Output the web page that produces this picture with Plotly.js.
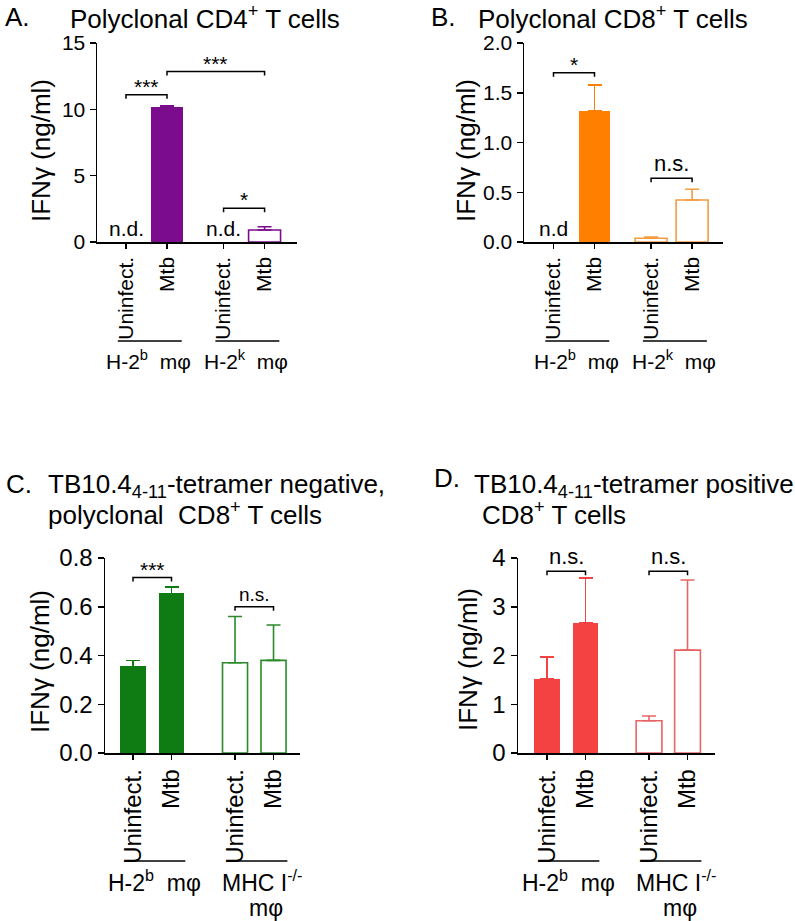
<!DOCTYPE html>
<html>
<head>
<meta charset="utf-8">
<script src="https://cdn.plot.ly/plotly-3.0.1.min.js"></script>
<style>html,body{margin:0;padding:0;background:#fff;}#chart{width:795px;height:921px;}</style>
</head>
<body>
<div id="chart"></div>
<script>
// ---------------- DATA ----------------
const categories = ['Uninfect.', 'Mtb', 'Uninfect.', 'Mtb'];

const groupsA = ['H-2<sup>b</sup>\u00a0\u00a0mφ', 'H-2<sup>k</sup>\u00a0\u00a0mφ'];
const groupsB = ['H-2<sup>b</sup>\u00a0\u00a0mφ', 'H-2<sup>k</sup>\u00a0\u00a0mφ'];
const groupsC = ['H-2<sup>b</sup>\u00a0\u00a0mφ', 'MHC I<sup>-/-</sup>'];
const groupsD = ['H-2<sup>b</sup>\u00a0\u00a0mφ', 'MHC I<sup>-/-</sup>'];

// IFN-gamma (ng/ml), mean and upper error (null = not detected)
const valuesA = [null, 10.15, null, 0.9];
const errorsA = [0, 0.12, 0, 0.25];
const valuesB = [null, 1.32, 0.037, 0.422];
const errorsB = [0, 0.26, 0.013, 0.108];
const valuesC = [0.355, 0.655, 0.37, 0.38];
const errorsC = [0.025, 0.027, 0.19, 0.145];
const valuesD = [1.52, 2.67, 0.66, 2.11];
const errorsD = [0.45, 0.92, 0.10, 1.44];

// significance brackets: [from index, to index, level, label]
const bracketsA = [[0, 1, 11.1, '***'], [1, 3, 12.85, '***'], [2, 3, 2.55, '*']];
const bracketsB = [[0, 1, 1.70, '*'], [2, 3, 0.64, 'n.s.']];
const bracketsC = [[0, 1, 0.72, '***'], [2, 3, 0.60, 'n.s.']];
const bracketsD = [[0, 1, 3.73, 'n.s.'], [2, 3, 3.73, 'n.s.']];

const notDetectedLabelA = 'n.d.';
const notDetectedLabelB = 'n.d';

const titleLettersText = ['A.', 'B.', 'C.', 'D.'];
const yTitle = 'IFNγ (ng/ml)';

// ---------------- LAYOUT / STYLE ----------------
const W = 795, H = 921;
const FONT = 'Liberation Sans, Arial, Helvetica, sans-serif';

const panels = [
  { xa: 'x', ya: 'y', values: valuesA, errors: errorsA, brackets: bracketsA, groups: groupsA,
    nd: notDetectedLabelA, fill: '#7B0C8E', edge: '#7B0C8E',
    left: 97, right: 297, top: 43, bottom: 242, tick0: 126, unit: 41, gap: 0.38, bw: 0.78,
    yMax: 15, dtick: 5, fmt: 'd', tickSize: 21, brkSize: 21, nsSize: 22,
    groupLineY: 341, groupLabelY: 360, groupSize: 21, yTitleX: 41, yTitleY: 151 },
  { xa: 'x2', ya: 'y2', values: valuesB, errors: errorsB, brackets: bracketsB, groups: groupsB,
    nd: notDetectedLabelB, fill: '#FF8000', edge: '#F39C40',
    left: 524, right: 723, top: 43, bottom: 242, tick0: 553.5, unit: 41, gap: 0.38, bw: 0.78,
    yMax: 2, dtick: 0.5, fmt: '.1f', tickSize: 21, brkSize: 21, nsSize: 22,
    groupLineY: 341, groupLabelY: 360, groupSize: 21, yTitleX: 466, yTitleY: 151 },
  { xa: 'x3', ya: 'y3', values: valuesC, errors: errorsC, brackets: bracketsC, groups: groupsC,
    nd: null, fill: '#0E7C12', edge: '#2A8A2A',
    left: 105, right: 300, top: 558, bottom: 753, tick0: 133, unit: 38.5, gap: 0.65, bw: 0.65,
    yMax: 0.8, dtick: 0.2, fmt: '.1f', tickSize: 24, brkSize: 21, nsSize: 19,
    groupLineY: 861, groupLabelY: 881, groupSize: 23, yTitleX: 40, yTitleY: 662 },
  { xa: 'x4', ya: 'y4', values: valuesD, errors: errorsD, brackets: bracketsD, groups: groupsD,
    nd: null, fill: '#F44242', edge: '#E86464',
    left: 518, right: 715, top: 558, bottom: 753, tick0: 547, unit: 38.5, gap: 0.65, bw: 0.67,
    yMax: 4, dtick: 1, fmt: 'd', tickSize: 24, brkSize: 21, nsSize: 22,
    groupLineY: 861, groupLabelY: 881, groupSize: 23, yTitleX: 468, yTitleY: 660 }
];

const py = v => 1 - v / H;
const px = v => v / W;

const traces = [];
const shapes = [];
const annotations = [];
const layout = {
  width: W, height: H,
  margin: { l: 0, r: 0, t: 0, b: 0 },
  paper_bgcolor: 'white', plot_bgcolor: 'white',
  showlegend: false,
  font: { family: FONT, color: 'black' },
  bargap: 0
};

panels.forEach((p, k) => {
  const pos = categories.map((c, i) => i + p.gap * Math.floor(i / 2));
  const xRange = [(p.left - p.tick0) / p.unit, (p.right - p.tick0) / p.unit];
  const axSuffix = k === 0 ? '' : String(k + 1);

  // bars: group 1 filled, group 2 outlined
  [0, 1].forEach(g => {
    const idx = [2 * g, 2 * g + 1];
    const filled = g === 0;
    traces.push({
      type: 'bar',
      xaxis: p.xa, yaxis: p.ya,
      x: idx.map(i => pos[i]),
      y: idx.map(i => p.values[i]),
      width: p.bw,
      marker: {
        color: filled ? p.fill : 'white',
        line: { color: filled ? p.fill : p.edge, width: filled ? 0 : 1.6 }
      },
      error_y: {
        type: 'data', symmetric: false,
        array: idx.map(i => p.errors[i]),
        arrayminus: idx.map(() => 0),
        color: filled ? p.fill : p.edge, thickness: 1.6, width: 7
      },
      hoverinfo: 'skip'
    });
  });

  layout['xaxis' + axSuffix] = {
    domain: [px(p.left), px(p.right)], range: xRange, anchor: p.ya,
    showline: true, linecolor: 'black', linewidth: 1.5,
    ticks: 'outside', ticklen: 5, tickwidth: 1.5, tickcolor: 'black',
    tickmode: 'array', tickvals: pos, ticktext: categories, tickangle: -90,
    tickfont: { family: FONT, size: p.tickSize, color: 'black' },
    showgrid: false, zeroline: false, fixedrange: true
  };
  layout['yaxis' + axSuffix] = {
    domain: [py(p.bottom), py(p.top)], range: [0, p.yMax], anchor: p.xa,
    showline: true, linecolor: 'black', linewidth: 1.5,
    ticks: 'outside', ticklen: 6, tickwidth: 1.5, tickcolor: 'black',
    dtick: p.dtick, tick0: 0, tickformat: p.fmt,
    tickfont: { family: FONT, size: p.tickSize, color: 'black' },
    showgrid: false, zeroline: false, fixedrange: true
  };

  // significance brackets
  const drop = 4 * p.yMax / (p.bottom - p.top);
  p.brackets.forEach(b => {
    const [i, j, lev, lab] = b;
    const x0 = pos[i], x1 = pos[j];
    shapes.push({
      type: 'path', xref: p.xa, yref: p.ya,
      path: `M${x0},${lev - drop} L${x0},${lev} L${x1},${lev} L${x1},${lev - drop}`,
      line: { color: 'black', width: 1.5 }
    });
    const isStar = lab.indexOf('*') >= 0;
    annotations.push({
      xref: p.xa, yref: p.ya, x: (x0 + x1) / 2, y: lev,
      text: lab, showarrow: false, xanchor: 'center', yanchor: 'bottom',
      yshift: isStar ? -5 : 0,
      font: { family: FONT, size: isStar ? p.brkSize : p.nsSize, color: 'black' }
    });
  });

  // not detected labels
  if (p.nd) {
    p.values.forEach((v, i) => {
      if (v === null) {
        annotations.push({
          xref: p.xa, yref: p.ya, x: pos[i], y: 0, text: p.nd, showarrow: false,
          xanchor: 'center', yanchor: 'bottom', yshift: 0,
          font: { family: FONT, size: 21, color: 'black' }
        });
      }
    });
  }

  // group lines + labels
  p.groups.forEach((gl, g) => {
    const a = pos[2 * g], b = pos[2 * g + 1];
    shapes.push({
      type: 'line', xref: p.xa, yref: 'paper',
      x0: a - 0.2, x1: b + 0.36, y0: py(p.groupLineY), y1: py(p.groupLineY),
      line: { color: 'black', width: 1.5 }
    });
    const twoLine = gl.indexOf('MHC') === 0;
    annotations.push({
      xref: p.xa, yref: 'paper', x: (a + b) / 2 + (twoLine ? 0.2 : 0.05), y: py(p.groupLabelY),
      text: gl, showarrow: false, xanchor: 'center', yanchor: 'middle',
      font: { family: FONT, size: p.groupSize, color: 'black' }
    });
    if (twoLine) {
      annotations.push({
        xref: p.xa, yref: 'paper', x: (a + b) / 2 + 0.3, y: py(p.groupLabelY + 27),
        text: 'mφ', showarrow: false, xanchor: 'center', yanchor: 'middle',
        font: { family: FONT, size: p.groupSize, color: 'black' }
      });
    }
  });

  // y axis title
  annotations.push({
    xref: 'paper', yref: 'paper', x: px(p.yTitleX), y: py(p.yTitleY),
    text: yTitle, textangle: -90, showarrow: false, xanchor: 'center', yanchor: 'middle',
    font: { family: FONT, size: 26, color: 'black' }
  });
});

// panel titles
const titles = [
  { t: titleLettersText[0], x: 3, y: 17, s: 26 },
  { t: 'Polyclonal CD4<sup>+</sup> T cells', x: 68, y: 17, s: 26 },
  { t: titleLettersText[1], x: 429, y: 17, s: 26 },
  { t: 'Polyclonal CD8<sup>+</sup> T cells', x: 476, y: 17, s: 26 },
  { t: titleLettersText[2], x: 4, y: 484, s: 26 },
  { t: 'TB10.4<sub>4-11</sub>-tetramer negative,', x: 46, y: 485, s: 26 },
  { t: 'polyclonal\u00a0\u00a0CD8<sup>+</sup> T cells', x: 46, y: 513, s: 26 },
  { t: titleLettersText[3], x: 432, y: 478, s: 26 },
  { t: 'TB10.4<sub>4-11</sub>-tetramer positive', x: 472, y: 485, s: 26 },
  { t: 'CD8<sup>+</sup> T cells', x: 480, y: 513, s: 26 }
];
titles.forEach(o => annotations.push({
  xref: 'paper', yref: 'paper', x: px(o.x), y: py(o.y), text: o.t, showarrow: false,
  xanchor: 'left', yanchor: 'middle', align: 'left',
  font: { family: FONT, size: o.s, color: 'black' }
}));

layout.shapes = shapes;
layout.annotations = annotations;

Plotly.newPlot('chart', traces, layout, { staticPlot: true, displayModeBar: false });
</script>
</body>
</html>
